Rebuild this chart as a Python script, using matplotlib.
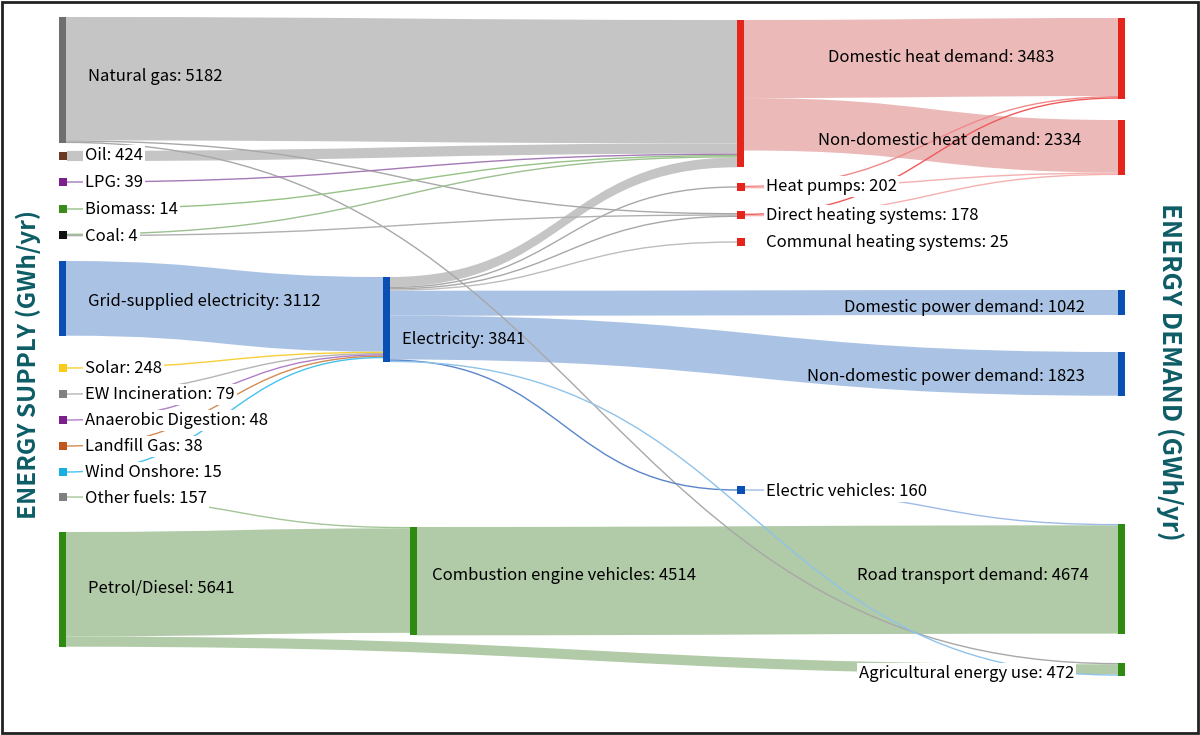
import matplotlib
matplotlib.use("Agg")
import matplotlib.pyplot as plt
from matplotlib.path import Path
from matplotlib.patches import PathPatch, Rectangle

plt.rcParams['font.family'] = ['Noto Sans CJK KR', 'DejaVu Sans']

# ---- data (GWh/yr) ----
node_names = [
    "Natural gas", "Oil", "LPG", "Biomass", "Coal", "Grid-supplied electricity",
    "Solar", "EW Incineration", "Anaerobic Digestion", "Landfill Gas", "Wind Onshore",
    "Other fuels", "Petrol/Diesel", "Electricity", "Combustion engine vehicles", "Heat",
    "Heat pumps", "Direct heating systems", "Communal heating systems", "Electric vehicles",
    "Domestic heat demand", "Non-domestic heat demand", "Domestic power demand",
    "Non-domestic power demand", "Road transport demand", "Agricultural energy use",
]
node_values = [5182, 424, 39, 14, 4, 3112, 248, 79, 48, 38, 15, 157, 5641, 3841, 4514, None,
               202, 178, 25, 160, 3483, 2334, 1042, 1823, 4674, 472]

link_src = ["Natural gas", "Natural gas", "Natural gas", "Oil", "LPG", "Biomass", "Coal", "Coal",
            "Grid-supplied electricity", "Solar", "EW Incineration", "Anaerobic Digestion",
            "Landfill Gas", "Wind Onshore", "Other fuels", "Petrol/Diesel", "Petrol/Diesel",
            "Electricity", "Electricity", "Electricity", "Electricity", "Electricity",
            "Electricity", "Electricity", "Electricity",
            "Heat", "Heat", "Heat pumps", "Heat pumps", "Direct heating systems",
            "Direct heating systems", "Electric vehicles", "Combustion engine vehicles"]
link_dst = ["Heat", "Direct heating systems", "Agricultural energy use", "Heat", "Heat", "Heat",
            "Heat", "Direct heating systems",
            "Electricity", "Electricity", "Electricity", "Electricity", "Electricity", "Electricity",
            "Combustion engine vehicles", "Combustion engine vehicles", "Agricultural energy use",
            "Heat", "Heat pumps", "Direct heating systems", "Communal heating systems",
            "Domestic power demand", "Non-domestic power demand", "Electric vehicles",
            "Agricultural energy use",
            "Domestic heat demand", "Non-domestic heat demand", "Domestic heat demand",
            "Non-domestic heat demand", "Domestic heat demand", "Non-domestic heat demand",
            "Road transport demand", "Road transport demand"]
link_vals = [5142, 20, 20, 424, 39, 14, 2, 2,
             3112, 248, 79, 48, 38, 15,
             157, 4357, 422,
             409, 202, 154, 25, 1042, 1823, 160, 30,
             3253, 2184, 120, 82, 110, 68,
             160, 4514]

# ---- styles / layout ----
SCALE = 0.024      # px per GWh
THIN = 300         # flows below this are drawn as hairlines
THIN_W = 1.3
BAR_W = 7
SQ = 8
GREY, BLUE, GREEN, RED = "#6f6f6f", "#0a4fb3", "#2f8a12", "#e5251b"
node_style = {  # x, y (top for bars, centre for squares), kind, colour
    "Natural gas": (59, 17, "bar", GREY),
    "Oil": (59, 156, "sq", "#6b3a22"),
    "LPG": (59, 182, "sq", "#7b1f8c"),
    "Biomass": (59, 209, "sq", "#3a8c1c"),
    "Coal": (59, 235, "sq", "#111111"),
    "Grid-supplied electricity": (59, 261, "bar", BLUE),
    "Solar": (59, 368, "sq", "#f8cc18"),
    "EW Incineration": (59, 394, "sq", "#808080"),
    "Anaerobic Digestion": (59, 420, "sq", "#7b1f8c"),
    "Landfill Gas": (59, 446, "sq", "#c0561c"),
    "Wind Onshore": (59, 472, "sq", "#18aede"),
    "Other fuels": (59, 497, "sq", "#808080"),
    "Petrol/Diesel": (59, 532, "bar", GREEN),
    "Electricity": (383, 277, "bar", BLUE),
    "Combustion engine vehicles": (410, 527, "bar", GREEN),
    "Heat": (737, 20, "bar", RED),
    "Heat pumps": (737, 187, "sq", RED),
    "Direct heating systems": (737, 215, "sq", RED),
    "Communal heating systems": (737, 242, "sq", RED),
    "Electric vehicles": (737, 490, "sq", BLUE),
    "Domestic heat demand": (1118, 18, "bar", RED),
    "Non-domestic heat demand": (1118, 120, "bar", RED),
    "Domestic power demand": (1118, 290, "bar", BLUE),
    "Non-domestic power demand": (1118, 352, "bar", BLUE),
    "Road transport demand": (1118, 524, "bar", GREEN),
    "Agricultural energy use": (1118, 663, "bar", GREEN),
}
label_style = {  # x, y, ha, white box
    "Natural gas": (88, 76, "left", False),
    "Oil": (85, 155, "left", True),
    "LPG": (85, 182, "left", True),
    "Biomass": (85, 209, "left", True),
    "Coal": (85, 236, "left", True),
    "Grid-supplied electricity": (88, 301, "left", False),
    "Solar": (85, 368, "left", True),
    "EW Incineration": (85, 394, "left", True),
    "Anaerobic Digestion": (85, 420, "left", True),
    "Landfill Gas": (85, 446, "left", True),
    "Wind Onshore": (85, 472, "left", True),
    "Other fuels": (85, 498, "left", True),
    "Petrol/Diesel": (88, 588, "left", False),
    "Electricity": (402, 339, "left", False),
    "Combustion engine vehicles": (432, 576, "left", False),
    "Heat pumps": (766, 186, "left", True),
    "Direct heating systems": (766, 215, "left", True),
    "Communal heating systems": (766, 242, "left", True),
    "Electric vehicles": (766, 491, "left", True),
    "Domestic heat demand": (941, 57, "center", False),
    "Non-domestic heat demand": (950, 140, "center", False),
    "Domestic power demand": (1085, 307, "right", False),
    "Non-domestic power demand": (1085, 376, "right", False),
    "Road transport demand": (1089, 576, "right", False),
    "Agricultural energy use": (1074, 673, "right", True),
}
LG, LB, LGR, LR = "#c2c2c2", "#a6c0e4", "#adc8a2", "#ebb6b6"
link_colors = [LG, "#a8a8a8", "#a8a8a8", LG, "#a57ab5", "#95c285", "#9cc090", "#b0b0b0",
               LB, "#f7d038", "#b5b5b5", "#b07fc8", "#d48a52", "#45c2f0",
               "#a3c697", LGR, LGR,
               LG, "#a8a8a8", "#a8a8a8", "#bdbdbd", LB, LB, "#5a86c8", "#8fc3ea",
               LR, LR, "#f08a8a", "#f5b0b0", "#ee5a5a", "#f5b0b0",
               "#9dbbe6", LGR]


def width(v):
    return v * SCALE if v >= THIN else THIN_W


# ---- node geometry ----
out_sum = {n: 0 for n in node_names}
in_sum = {n: 0 for n in node_names}
for s, d, v in zip(link_src, link_dst, link_vals):
    out_sum[s] += width(v)
    in_sum[d] += width(v)

geom = {}
for n in node_names:
    x, y, kind, col = node_style[n]
    if kind == "bar":
        h = max(out_sum[n], in_sum[n])
        geom[n] = (x, x + BAR_W, y, y + h)
    else:
        geom[n] = (x, x + SQ, y - SQ / 2, y + SQ / 2)

out_pos, in_pos = {}, {}
for n in node_names:
    x0, x1, y0, y1 = geom[n]
    if node_style[n][2] == "bar":
        out_pos[n] = y0
        in_pos[n] = y0
    else:
        c = (y0 + y1) / 2
        out_pos[n] = c - out_sum[n] / 2
        in_pos[n] = c - in_sum[n] / 2

fig = plt.figure(figsize=(12, 7.35), dpi=100)
ax = fig.add_axes([0, 0, 1, 1])
ax.set_xlim(0, 1200)
ax.set_ylim(735, 0)
ax.axis("off")

# ---- links ----
for s, d, v, c in zip(link_src, link_dst, link_vals, link_colors):
    w = width(v)
    xa = geom[s][1]
    xb = geom[d][0]
    ya = out_pos[s]
    yb = in_pos[d]
    out_pos[s] += w
    in_pos[d] += w
    xm = (xa + xb) / 2
    if v < THIN:
        ca, cb = ya + w / 2, yb + w / 2
        p = Path([(xa, ca), (xm, ca), (xm, cb), (xb, cb)],
                 [Path.MOVETO, Path.CURVE4, Path.CURVE4, Path.CURVE4])
        ax.add_patch(PathPatch(p, fill=False, edgecolor=c, lw=1.0, zorder=2))
    else:
        verts = [(xa, ya), (xm, ya), (xm, yb), (xb, yb), (xb, yb + w),
                 (xm, yb + w), (xm, ya + w), (xa, ya + w), (xa, ya)]
        codes = [Path.MOVETO, Path.CURVE4, Path.CURVE4, Path.CURVE4, Path.LINETO,
                 Path.CURVE4, Path.CURVE4, Path.CURVE4, Path.CLOSEPOLY]
        ax.add_patch(PathPatch(Path(verts, codes), facecolor=c, edgecolor="none",
                               alpha=0.95, zorder=1))

# ---- nodes ----
for n, v in zip(node_names, node_values):
    x0, x1, y0, y1 = geom[n]
    ax.add_patch(Rectangle((x0, y0), x1 - x0, y1 - y0, facecolor=node_style[n][3],
                           edgecolor="none", zorder=3))
    if n in label_style:
        lx, ly, ha, boxed = label_style[n]
        bbox = dict(boxstyle="square,pad=0.12", facecolor="white", edgecolor="none") if boxed else None
        ax.text(lx, ly, f"{n}: {v}", ha=ha, va="center", fontsize=12, color="#000000",
                bbox=bbox, zorder=4)

# ---- side titles ----
ax.text(28, 364, "ENERGY SUPPLY (GWh/yr)", rotation=90, ha="center", va="center",
        fontsize=17.5, fontweight="bold", color="#0d5c66")
ax.text(1170, 372, "ENERGY DEMAND (GWh/yr)", rotation=-90, ha="center", va="center",
        fontsize=18.5, fontweight="bold", color="#0d5c66")

ax.add_patch(Rectangle((1.5, 1.5), 1196, 731, fill=False, edgecolor="#222222", lw=2, zorder=5))

fig.savefig("out.png", dpi=100, facecolor="white")
